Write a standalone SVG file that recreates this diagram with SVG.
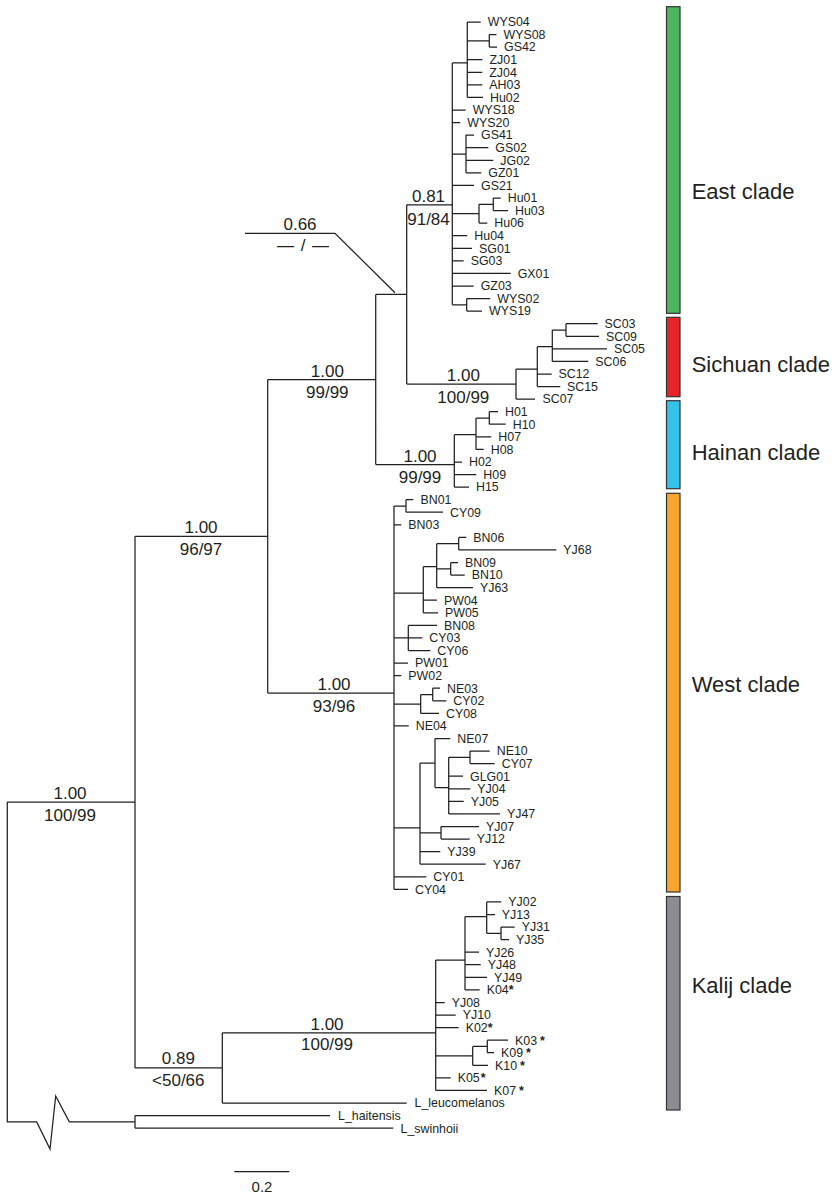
<svg xmlns="http://www.w3.org/2000/svg" width="833" height="1196" viewBox="0 0 833 1196">
<style>
.e{fill:none;stroke:#231f20;stroke-width:1.25}
.l{font-family:"Liberation Sans",Arial,sans-serif;font-size:12.4px;fill:#231f20}
.s{font-family:"Liberation Sans",Arial,sans-serif;font-size:17px;fill:#231f20;text-anchor:middle}
.c{font-family:"Liberation Sans",Arial,sans-serif;font-size:22px;fill:#231f20}
.b{stroke:#333;stroke-width:1.2}
.a{font-weight:bold}
</style>
<rect width="833" height="1196" fill="#fff"/>
<g id="connectors" class="e">
<path d="M406.7 204.8H452.3M452.3 62.9V304.8M452.3 62.9H467.3M467.3 22V97.4M467.3 22H480.7M467.3 40.85H489.3M489.3 34.6V47.1M489.3 34.6H496.5M489.3 47.1H497M467.3 59.7H482.5M467.3 72.3H482.3M467.3 84.9H482.3M467.3 97.4H483M452.3 110H465.7M452.3 122.6H460.3M452.3 154H466M466 135.1V172.8M466 135.1H474M466 147.7H488.3M466 160.3H493.3M466 172.8H481.3M452.3 185.4H474M452.3 213.7H479M479 204.3V223.1M479 204.3H493.3M493.3 198V210.6M493.3 198H500.7M493.3 210.6H508M479 223.1H487.3M452.3 235.7H467.3M452.3 248.3H472M452.3 260.8H463.7M452.3 273.4H510.7M452.3 286H473.7M452.3 304.8H466.7M466.7 298.5V311.1M466.7 298.5H490.3M466.7 311.1H482"/>
<path d="M406.7 204.8V384.1M375.7 294.45H406.7M406.7 384.1H516M516 369.1V399.1M516 399.1H535M516 369.1H537.3M537.3 346.7V386.5M537.3 374H551.7M537.3 386.5H560.3M537.3 346.7H552.3M552.3 330V361.4M552.3 348.8H607M552.3 361.4H588.3M552.3 330H566M566 323.7V336.3M566 323.7H597.7M566 336.3H599"/>
<path d="M375.7 294.45V464.6M267.7 379.5H375.7M375.7 464.6H454.3M454.3 434.7V487.1M454.3 434.7H476M476 418V449.4M476 418H489.3M489.3 411.7V424.2M489.3 411.7H498M489.3 424.2H505.7M476 436.8H491.3M476 449.4H483.7M454.3 462H462M454.3 474.5H476.3M454.3 487.1H469"/>
<path d="M267.7 379.5V693.1M135 536.3H267.7M267.7 693.1H394M394 506V889.3M394 506H406M406 499.7V512.2M406 499.7H413.3M406 512.2H443M394 524.8H401.3M394 593.2H423.3M423.3 566.7V612.8M423.3 566.7H436.7M436.7 543.65V587.7M436.7 543.65H458.7M458.7 537.4V549.9M458.7 537.4H466.3M458.7 549.9H556.3M436.7 568.8H450.7M450.7 562.5V575.1M450.7 562.5H458M450.7 575.1H464.7M436.7 587.7H473M423.3 600.2H437M423.3 612.8H438M394 637.9H408.3M408.3 625.4V650.5M408.3 625.4H437M408.3 637.9H422.3M408.3 650.5H430.3M394 663.1H408M394 675.6H401.3M394 704H420.7M420.7 694.5V713.4M420.7 694.5H432.7M432.7 688.2V700.8M432.7 688.2H440M432.7 700.8H446.3M420.7 713.4H439M394 725.9H408.7M394 827.9H420M420 763V864.2M420 763H435M435 738.5V787.5M435 738.5H450.3M435 787.5H448.7M448.7 757.35V813.9M448.7 757.35H470M470 751.1V763.6M470 751.1H489.7M470 763.6H494.7M448.7 776.2H463M448.7 788.8H470.3M448.7 801.3H463.7M448.7 813.9H500M420 832.8H441M441 826.5V839.1M441 826.5H479M441 839.1H469.7M420 851.6H440.3M420 864.2H485.7M394 876.8H426.3M394 889.3H408"/>
<path d="M135 536.3V1067.9M7.3 802.1H135M135 1067.9H222.3M222.3 1032.8V1103M222.3 1103H406.7M222.3 1032.8H435.7M435.7 960.1V1090.4M435.7 960.1H465M465 916.6V989.9M465 916.6H486.7M486.7 901.9V933.3M486.7 901.9H501.3M486.7 914.5H495M486.7 933.3H501M501 927V939.6M501 927H514.7M501 939.6H509M465 952.2H479M465 964.7H480.7M465 977.3H487M465 989.9H479.7M435.7 1002.5H444.7M435.7 1015H455.7M435.7 1027.6H458.7M435.7 1055.9H472.7M472.7 1046.45V1065.3M472.7 1046.45H487.3M487.3 1040.2V1052.7M487.3 1040.2H508M487.3 1052.7H494M472.7 1065.3H488M435.7 1077.9H450.7M435.7 1090.4H487"/>
<path d="M7.3 802.1V1121.9H36.7L50 1149L55.7 1096L69.3 1121.9H135M135 1115.6V1128.2M135 1115.6H330M135 1128.2H393.3"/>
<path d="M245 233.3H335L395 292.7"/>
</g>
<g id="leaves" class="l">
<g id="n-WYS04"><text x="487.7" y="26.3">WYS04</text></g>
<g id="n-WYS08"><text x="503.5" y="38.9">WYS08</text></g>
<g id="n-GS42"><text x="504" y="51.4">GS42</text></g>
<g id="n-ZJ01"><text x="489.5" y="64">ZJ01</text></g>
<g id="n-ZJ04"><text x="489.3" y="76.6">ZJ04</text></g>
<g id="n-AH03"><text x="489.3" y="89.2">AH03</text></g>
<g id="n-Hu02"><text x="490" y="101.7">Hu02</text></g>
<g id="n-WYS18"><text x="472.7" y="114.3">WYS18</text></g>
<g id="n-WYS20"><text x="467.3" y="126.9">WYS20</text></g>
<g id="n-GS41"><text x="481" y="139.4">GS41</text></g>
<g id="n-GS02"><text x="495.3" y="152">GS02</text></g>
<g id="n-JG02"><text x="500.3" y="164.6">JG02</text></g>
<g id="n-GZ01"><text x="488.3" y="177.1">GZ01</text></g>
<g id="n-GS21"><text x="481" y="189.7">GS21</text></g>
<g id="n-Hu01"><text x="507.7" y="202.3">Hu01</text></g>
<g id="n-Hu03"><text x="515" y="214.9">Hu03</text></g>
<g id="n-Hu06"><text x="494.3" y="227.4">Hu06</text></g>
<g id="n-Hu04"><text x="474.3" y="240">Hu04</text></g>
<g id="n-SG01"><text x="479" y="252.6">SG01</text></g>
<g id="n-SG03"><text x="470.7" y="265.1">SG03</text></g>
<g id="n-GX01"><text x="517.7" y="277.7">GX01</text></g>
<g id="n-GZ03"><text x="480.7" y="290.3">GZ03</text></g>
<g id="n-WYS02"><text x="497.3" y="302.8">WYS02</text></g>
<g id="n-WYS19"><text x="489" y="315.4">WYS19</text></g>
<g id="n-SC03"><text x="604.5" y="328">SC03</text></g>
<g id="n-SC09"><text x="606" y="340.6">SC09</text></g>
<g id="n-SC05"><text x="614" y="353.1">SC05</text></g>
<g id="n-SC06"><text x="595.3" y="365.7">SC06</text></g>
<g id="n-SC12"><text x="558.5" y="378.3">SC12</text></g>
<g id="n-SC15"><text x="567" y="390.8">SC15</text></g>
<g id="n-SC07"><text x="542.5" y="403.4">SC07</text></g>
<g id="n-H01"><text x="505" y="416">H01</text></g>
<g id="n-H10"><text x="512.7" y="428.5">H10</text></g>
<g id="n-H07"><text x="498.3" y="441.1">H07</text></g>
<g id="n-H08"><text x="490.7" y="453.7">H08</text></g>
<g id="n-H02"><text x="469" y="466.3">H02</text></g>
<g id="n-H09"><text x="483.3" y="478.8">H09</text></g>
<g id="n-H15"><text x="476" y="491.4">H15</text></g>
<g id="n-BN01"><text x="420.5" y="504">BN01</text></g>
<g id="n-CY09"><text x="450" y="516.5">CY09</text></g>
<g id="n-BN03"><text x="408.3" y="529.1">BN03</text></g>
<g id="n-BN06"><text x="473.3" y="541.7">BN06</text></g>
<g id="n-YJ68"><text x="563.3" y="554.2">YJ68</text></g>
<g id="n-BN09"><text x="465" y="566.8">BN09</text></g>
<g id="n-BN10"><text x="471.7" y="579.4">BN10</text></g>
<g id="n-YJ63"><text x="480" y="592">YJ63</text></g>
<g id="n-PW04"><text x="444" y="604.5">PW04</text></g>
<g id="n-PW05"><text x="445" y="617.1">PW05</text></g>
<g id="n-BN08"><text x="444" y="629.7">BN08</text></g>
<g id="n-CY03"><text x="429.3" y="642.2">CY03</text></g>
<g id="n-CY06"><text x="437.3" y="654.8">CY06</text></g>
<g id="n-PW01"><text x="415" y="667.4">PW01</text></g>
<g id="n-PW02"><text x="408.3" y="679.9">PW02</text></g>
<g id="n-NE03"><text x="447" y="692.5">NE03</text></g>
<g id="n-CY02"><text x="453.3" y="705.1">CY02</text></g>
<g id="n-CY08"><text x="446" y="717.7">CY08</text></g>
<g id="n-NE04"><text x="415.7" y="730.2">NE04</text></g>
<g id="n-NE07"><text x="457.3" y="742.8">NE07</text></g>
<g id="n-NE10"><text x="496.7" y="755.4">NE10</text></g>
<g id="n-CY07"><text x="501.7" y="767.9">CY07</text></g>
<g id="n-GLG01"><text x="470" y="780.5">GLG01</text></g>
<g id="n-YJ04"><text x="477.3" y="793.1">YJ04</text></g>
<g id="n-YJ05"><text x="470.7" y="805.6">YJ05</text></g>
<g id="n-YJ47"><text x="507" y="818.2">YJ47</text></g>
<g id="n-YJ07"><text x="486" y="830.8">YJ07</text></g>
<g id="n-YJ12"><text x="476.7" y="843.4">YJ12</text></g>
<g id="n-YJ39"><text x="447.3" y="855.9">YJ39</text></g>
<g id="n-YJ67"><text x="492.7" y="868.5">YJ67</text></g>
<g id="n-CY01"><text x="433.3" y="881.1">CY01</text></g>
<g id="n-CY04"><text x="415" y="893.6">CY04</text></g>
<g id="n-YJ02"><text x="508.3" y="906.2">YJ02</text></g>
<g id="n-YJ13"><text x="501.7" y="918.8">YJ13</text></g>
<g id="n-YJ31"><text x="521.7" y="931.3">YJ31</text></g>
<g id="n-YJ35"><text x="516" y="943.9">YJ35</text></g>
<g id="n-YJ26"><text x="486" y="956.5">YJ26</text></g>
<g id="n-YJ48"><text x="487.7" y="969">YJ48</text></g>
<g id="n-YJ49"><text x="494" y="981.6">YJ49</text></g>
<g id="n-K04"><text x="486.7" y="994.2">K04<tspan class="a">*</tspan></text></g>
<g id="n-YJ08"><text x="451.7" y="1006.8">YJ08</text></g>
<g id="n-YJ10"><text x="462.7" y="1019.3">YJ10</text></g>
<g id="n-K02"><text x="465.7" y="1031.9">K02<tspan class="a">*</tspan></text></g>
<g id="n-K03"><text x="515" y="1044.5">K03<tspan class="a" dx="3">*</tspan></text></g>
<g id="n-K09"><text x="501" y="1057">K09<tspan class="a" dx="3">*</tspan></text></g>
<g id="n-K10"><text x="495" y="1069.6">K10<tspan class="a" dx="3">*</tspan></text></g>
<g id="n-K05"><text x="457.7" y="1082.2">K05<tspan class="a" dx="1">*</tspan></text></g>
<g id="n-K07"><text x="494" y="1094.7">K07<tspan class="a" dx="3">*</tspan></text></g>
<g id="n-L_leucomelanos"><text x="414.5" y="1107.3">L_leucomelanos</text></g>
<g id="n-L_haitensis"><text x="338" y="1119.9">L_haitensis</text></g>
<g id="n-L_swinhoii"><text x="400.5" y="1132.5">L_swinhoii</text></g>
</g>
<g id="supports" class="s">
<g id="sup-ES"><text x="300" y="230">0.66</text><text x="303" y="251" word-spacing="2">— / —</text></g>
<g id="sup-East"><text x="428.5" y="202">0.81</text><text x="428.5" y="224.5">91/84</text></g>
<g id="sup-Sichuan"><text x="463.3" y="381">1.00</text><text x="463.3" y="402.5">100/99</text></g>
<g id="sup-ESH"><text x="327.3" y="376.5">1.00</text><text x="327.3" y="398.3">99/99</text></g>
<g id="sup-Hainan"><text x="420" y="461.5">1.00</text><text x="420" y="483.3">99/99</text></g>
<g id="sup-ESHW"><text x="201" y="533.3">1.00</text><text x="201" y="554.5">96/97</text></g>
<g id="sup-West"><text x="334" y="690">1.00</text><text x="334" y="711.7">93/96</text></g>
<g id="sup-In"><text x="70" y="799">1.00</text><text x="70" y="820.5">100/99</text></g>
<g id="sup-Kalij"><text x="327" y="1029.5">1.00</text><text x="327" y="1050">100/99</text></g>
<g id="sup-KL"><text x="178.3" y="1064.3">0.89</text><text x="178.3" y="1085.5">&lt;50/66</text></g>
</g>
<g id="clades">
<g id="clade-East"><rect class="b" x="666.5" y="6.7" width="13.5" height="306.6" fill="#4db55f"/><text class="c" x="691.7" y="199">East clade</text></g>
<g id="clade-Sichuan"><rect class="b" x="666.5" y="317.3" width="13.5" height="79.4" fill="#e8242b"/><text class="c" x="691.7" y="372">Sichuan clade</text></g>
<g id="clade-Hainan"><rect class="b" x="666.5" y="400.7" width="13.5" height="88" fill="#34c3e8"/><text class="c" x="691.7" y="460">Hainan clade</text></g>
<g id="clade-West"><rect class="b" x="666.5" y="493.3" width="13.5" height="398.7" fill="#f8a62e"/><text class="c" x="691.7" y="692">West clade</text></g>
<g id="clade-Kalij"><rect class="b" x="666.5" y="896.5" width="13.5" height="213.5" fill="#8c8c92"/><text class="c" x="691.7" y="993">Kalij clade</text></g>
</g>
<g id="scale"><path class="e" d="M234.3 1171.7H289.3"/><text class="s" style="font-size:15px" x="262" y="1191.5">0.2</text></g>
</svg>
